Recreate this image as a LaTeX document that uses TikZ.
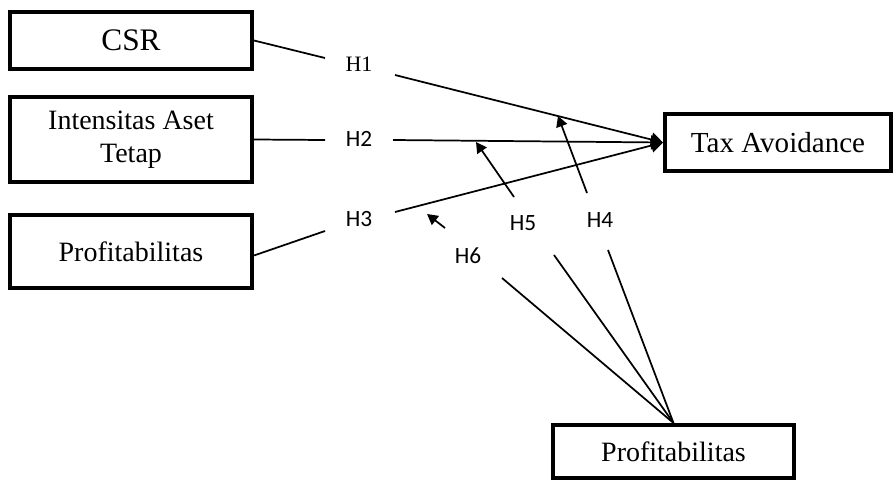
\documentclass[tikz,border=0pt]{standalone}
\usepackage{fontspec}
\setmainfont{Liberation Serif}
\newfontfamily\hfont{Carlito}
\usetikzlibrary{arrows.meta}
\begin{document}
\begin{tikzpicture}[x=0.75pt,y=-0.75pt,
  var/.style={draw,line width=3pt,rectangle,align=center,inner sep=0pt,
    font=\fontsize{21}{25}\selectfont},
  hyp/.style={inner sep=0pt,font=\hfont\fontsize{17.5}{20}\selectfont},
  conn/.style={line width=1.3pt},
  bigarrow/.style={conn,-{Triangle[length=9pt,width=10.5pt]}},
  smallarrow/.style={conn,-{Triangle[length=8pt,width=8.5pt]}}]
\useasboundingbox (0,0) rectangle (896,482);
% boxes
\node[var,minimum width=242*0.75pt,minimum height=57*0.75pt,font=\fontsize{23.5}{28}\selectfont] (csr) at (131,40.5) {CSR};
\node[var,minimum width=242*0.75pt,minimum height=85*0.75pt] (iat) at (131,139.5) {\strut Intensitas Aset\\\strut Tetap};
\node[var,minimum width=242*0.75pt,minimum height=73*0.75pt] (pl) at (131,251.5) {Profitabilitas};
\node[var,minimum width=226*0.75pt,minimum height=57*0.75pt,font=\fontsize{21.8}{26}\selectfont] (tax) at (778,142.5) {Tax Avoidance};
\node[var,minimum width=241*0.75pt,minimum height=53*0.75pt] (pb) at (673.5,451.5) {Profitabilitas};
% hypothesis labels
\node[hyp,font=\fontsize{16.5}{20}\selectfont] (h1) at (359,64) {H1};
\node[hyp] (h2) at (359,139) {H2};
\node[hyp] (h3) at (359,219) {H3};
\node[hyp] (h4) at (600,220) {H4};
\node[hyp] (h5) at (523,223) {H5};
\node[hyp] (h6) at (468,256) {H6};
% connector end points near labels
\coordinate (h1a) at (325,58);
\coordinate (h1b) at (395,75);
\coordinate (h2a) at (325,140);
\coordinate (h2b) at (393,140);
\coordinate (h3a) at (325,231);
\coordinate (h3b) at (395,212);
\coordinate (h4a) at (587,193);
\coordinate (h4t) at (558,116);
\coordinate (h5a) at (514,197);
\coordinate (h5t) at (476,142);
\coordinate (h6a) at (445,228);
\coordinate (h6t) at (427,214);
\coordinate (m6) at (502,278);
\coordinate (m5) at (554,255);
\coordinate (m4) at (608,250);
% direct effects
\draw[conn] (csr.east) -- (h1a);
\draw[bigarrow] (h1b) -- (tax.west);
\draw[conn] (iat.east) -- (h2a);
\draw[bigarrow] (h2b) -- (tax.west);
\draw[conn] ([yshift=-3pt]pl.east) -- (h3a);
\draw[bigarrow] (h3b) -- (tax.west);
% moderation
\draw[conn] (pb.north) -- (m6);
\draw[conn] (pb.north) -- (m5);
\draw[conn] (pb.north) -- (m4);
\draw[smallarrow] (h4a) -- (h4t);
\draw[smallarrow] (h5a) -- (h5t);
\draw[smallarrow] (h6a) -- (h6t);
\end{tikzpicture}
\end{document}
